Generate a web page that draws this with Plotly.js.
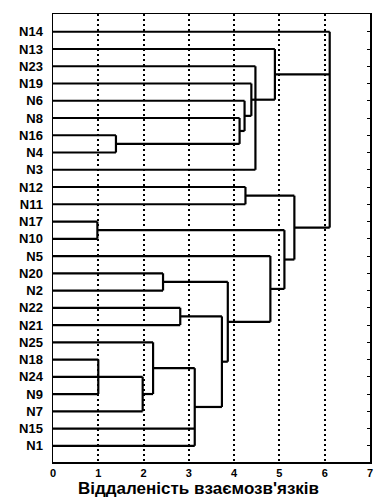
<!DOCTYPE html>
<html>
<head>
<meta charset="utf-8">
<script src="https://cdn.plot.ly/plotly-3.0.1.min.js"></script>
<style>html,body{margin:0;padding:0;background:#fff;}#chart{width:383px;height:498px;}</style>
</head>
<body>
<div id="chart"></div>
<script>
// Leaves, top to bottom as drawn
var leaves = ["N14","N13","N23","N19","N6","N8","N16","N4","N3","N12","N11","N17","N10","N5","N20","N2","N22","N21","N25","N18","N24","N9","N7","N15","N1"];
// Merges (children may be leaves or earlier merges "M<i>")
var mergeChildren = [
  ["N16","N4"],        // M0
  ["M0","N8"],         // M1
  ["N6","M1"],         // M2
  ["N19","M2"],        // M3
  ["N23","M3","N3"],   // M4
  ["N13","M4"],        // M5
  ["N12","N11"],       // M6
  ["N17","N10"],       // M7
  ["N20","N2"],        // M8
  ["N22","N21"],       // M9
  ["N18","N24","N9"],  // M10
  ["M10","N7"],        // M11
  ["N25","M11"],       // M12
  ["M12","N15","N1"],  // M13
  ["M9","M13"],        // M14
  ["M8","M14"],        // M15
  ["N5","M15"],        // M16
  ["M7","M16"],        // M17
  ["M6","M17"],        // M18
  ["N14","M5","M18"]   // M19
];
var mergeHeights = [1.39,4.12,4.23,4.38,4.47,4.90,4.25,0.98,2.43,2.81,1.0,1.98,2.21,3.13,3.73,3.86,4.80,5.11,5.33,6.11];
// branch through which a merge's link leaves (null = middle of its span)
var mergeAnchor = [null,null,null,null,"M3",null,null,null,null,null,null,null,null,null,null,null,null,null,null,null];
var xTicks = [0,1,2,3,4,5,6,7];
var xTitle = "Віддаленість взаємозв'язків";

var pos = {}, hgt = {};
leaves.forEach(function(n,i){ pos[n] = leaves.length-1-i; hgt[n] = 0; });
var xs = [], ys = [];
mergeChildren.forEach(function(ch,i){
  var id = "M"+i, h = mergeHeights[i];
  var cy = ch.map(function(c){return pos[c];});
  ch.forEach(function(c){ xs.push(hgt[c], h, null); ys.push(pos[c], pos[c], null); });
  var lo = Math.min.apply(null,cy), hi = Math.max.apply(null,cy);
  xs.push(h, h, null); ys.push(lo, hi, null);
  pos[id] = mergeAnchor[i] ? pos[mergeAnchor[i]] : (lo+hi)/2;
  hgt[id] = h;
});

var trace = {x: xs, y: ys, type: 'scatter', mode: 'lines', line: {color: '#000', width: 2.2}, hoverinfo: 'skip', showlegend: false};
var layout = {
  width: 383, height: 498,
  margin: {l: 53, r: 13, t: 14, b: 36},
  paper_bgcolor: '#fff', plot_bgcolor: '#fff',
  font: {family: 'Arial, Liberation Sans, sans-serif', color: '#000'},
  xaxis: {
    range: [0,7], tickvals: xTicks, ticktext: xTicks.map(String),
    showgrid: true, gridcolor: '#000', gridwidth: 2, griddash: '2px,3px',
    zeroline: false, showline: true, linecolor: '#000', linewidth: 1.5, mirror: true,
    ticks: '', tickfont: {size: 11, weight: 'bold'}
  },
  yaxis: {
    range: [-0.94, 25.03], tickvals: leaves.map(function(n){return pos[n];}), ticktext: leaves,
    showgrid: false, zeroline: false, showline: true, linecolor: '#000', linewidth: 1.5,
    mirror: 'ticks', ticks: 'inside', ticklen: 3, tickcolor: '#000',
    tickfont: {size: 13, weight: 'bold'}, ticklabelstandoff: 6
  },
  annotations: [{
    text: xTitle, xref: 'paper', yref: 'paper', x: 0.46, y: 0,
    xanchor: 'center', yanchor: 'middle', yshift: -26, showarrow: false,
    font: {size: 17, weight: 'bold', color: '#000'}
  }]
};
Plotly.newPlot('chart', [trace], layout, {staticPlot: true, displayModeBar: false});
</script>
</body>
</html>
